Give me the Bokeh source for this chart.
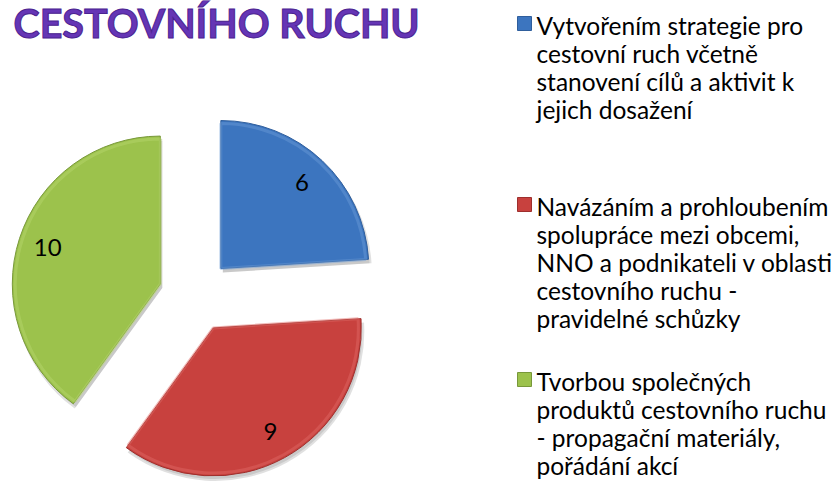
import math
from bokeh.plotting import figure
from bokeh.models import ColumnDataSource, Range1d
from bokeh.core.properties import value
from bokeh.embed import file_html
from bokeh.resources import INLINE

# ---- data ----
title_text = "CESTOVNÍHO RUCHU"
categories = [
    "Vytvořením strategie pro\ncestovní ruch včetně\nstanovení cílů a aktivit k\njejich dosažení",
    "Navázáním a prohloubením\nspolupráce mezi obcemi,\nNNO a podnikateli v oblasti\ncestovního ruchu -\npravidelné schůzky",
    "Tvorbou společných\nproduktů cestovního ruchu\n- propagační materiály,\npořádání akcí",
]
values = [6, 9, 10]
colors = ["#3C75BF", "#C8413E", "#9CC24C"]
edge_colors = ["#2F5E9C", "#9E2F2D", "#78983A"]
light_colors = ["#6A9BD8", "#E06A66", "#B7D86E"]

# ---- layout ----
W, H = 837, 493
p = figure(width=W, height=H, x_range=Range1d(0, W), y_range=Range1d(0, H),
           output_backend="svg", toolbar_location=None, min_border=0)
p.axis.visible = False
p.grid.visible = False
p.outline_line_color = None
p.background_fill_color = "white"
p.border_fill_color = "white"

# ---- pie geometry ----
cx, cy = 195, H - 295
r = 148
d = 37
total = float(sum(values))
xs, ys, starts, ends, lxs, lys, labels = [], [], [], [], [], [], []
cum = 0.0
for v in values:
    th0 = cum / total * 2 * math.pi
    th1 = (cum + v) / total * 2 * math.pi
    mid = (th0 + th1) / 2
    ax = cx + d * math.sin(mid)
    ay = cy + d * math.cos(mid)
    xs.append(ax)
    ys.append(ay)
    starts.append(math.pi / 2 - th1)
    ends.append(math.pi / 2 - th0)
    lxs.append(ax + 0.8 * r * math.sin(mid))
    lys.append(ay + 0.8 * r * math.cos(mid))
    labels.append(str(v))
    cum += v

src = ColumnDataSource(dict(x=xs, y=ys, start=starts, end=ends, color=colors,
                            edge=edge_colors, light=light_colors,
                            sx=[x + 2 for x in xs], sy=[y - 4 for y in ys]))

# shadow
p.wedge(x="sx", y="sy", radius=r + 1, start_angle="start", end_angle="end",
        fill_color="#000000", fill_alpha=0.12, line_color=None, source=src)
p.wedge(x="sx", y="sy", radius=r - 1, start_angle="start", end_angle="end",
        fill_color="#000000", fill_alpha=0.10, line_color=None, source=src)
# main
p.wedge(x="x", y="y", radius=r, start_angle="start", end_angle="end",
        fill_color="color", line_color="edge", line_width=1, source=src)
# bevel highlight
p.wedge(x="x", y="y", radius=r - 3, start_angle="start", end_angle="end",
        fill_color=None, line_color="light", line_alpha=0.45, line_width=3, source=src)

lsrc = ColumnDataSource(dict(x=lxs, y=lys, text=labels))
p.text(x="x", y="y", text="text", source=lsrc, text_align="center",
       text_baseline="middle", text_font=value("Lato"), text_font_size="24px",
       text_color="black")

# ---- title ----
p.text(x=[13], y=[H - 22], text=[title_text], text_baseline="alphabetic",
       text_align="left", text_font=value("Lato"), text_font_style="bold",
       text_font_size="39.5px", text_color="#6535B5", text_outline_color="#4A2290")

# ---- legend ----
item_y = [25, 206, 381]
line_h = 28
for cat, col, ec, y0 in zip(categories, colors, edge_colors, item_y):
    lines = cat.split("\n")
    p.scatter(x=[524], y=[H - y0 + 2], marker="square", size=14,
              fill_color=col, line_color=ec, line_width=1)
    p.text(x=[536] * len(lines), y=[H - (y0 + i * line_h) for i in range(len(lines))],
           text=lines, text_align="left", text_baseline="middle",
           text_font=value("Lato"), text_font_size="24.5px", text_color="black")

open("out.html", "w").write(file_html(p, INLINE))
